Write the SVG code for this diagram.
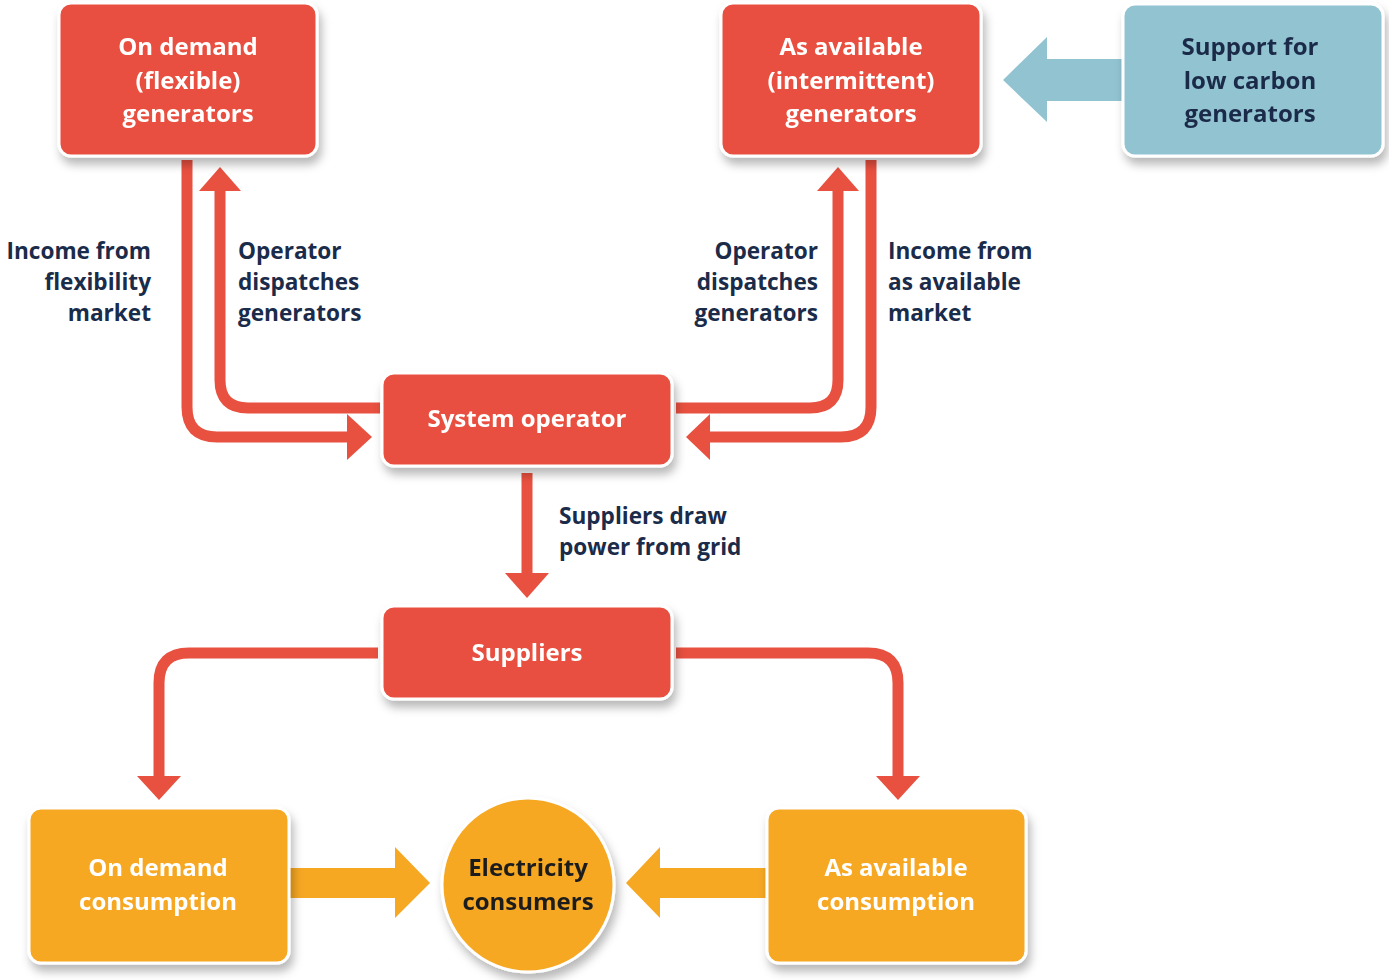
<svg xmlns="http://www.w3.org/2000/svg" width="1389" height="980" viewBox="0 0 1389 980">
<defs>
<filter id="sh" x="-20%" y="-20%" width="140%" height="150%">
<feDropShadow dx="3" dy="7" stdDeviation="5" flood-color="#000" flood-opacity="0.28"/>
</filter>
</defs>
<style>
.red{fill:#e8503f;stroke:#fff;stroke-width:3}
.blue{fill:#92c3d1;stroke:#fff;stroke-width:3}
.orange{fill:#f6a823;stroke:#fff;stroke-width:3}
.bt{font-family:"Open Sans","Liberation Sans",sans-serif;font-weight:700;font-size:24px;fill:#fff;text-anchor:middle}
.dt{fill:#1b2b4a}
.ct{fill:#1f1f1f}
.lbl{font-family:"Open Sans","Liberation Sans",sans-serif;font-weight:700;font-size:22.6px;fill:#1b2b4a}
.ln{fill:none;stroke:#e8503f;stroke-width:11}
.ah{fill:#e8503f}
</style>
<rect width="1389" height="980" fill="#fff"/>
<g id="connectors">
<path class="ln" d="M187,160 V407 Q187,437 217,437 H352"/>
<polygon class="ah" points="347,414 372,437 347,460"/>
<path class="ln" d="M380,408 H248 Q220,408 220,380 V188"/>
<polygon class="ah" points="199,191 220,167 241,191"/>
<path class="ln" d="M676,408 H810 Q838,408 838,380 V188"/>
<polygon class="ah" points="817,191 838,167 859,191"/>
<path class="ln" d="M871,160 V407 Q871,437 841,437 H706"/>
<polygon class="ah" points="710,414 686,437 710,460"/>
<path class="ln" d="M527,473 V576"/>
<polygon class="ah" points="505,573 527,598 549,573"/>
<path class="ln" d="M378,653 H189 Q159,653 159,683 V779"/>
<polygon class="ah" points="137,776 159,800 181,776"/>
<path class="ln" d="M676,653 H868 Q898,653 898,683 V779"/>
<polygon class="ah" points="876,776 898,800 920,776"/>
<polygon fill="#92c3d1" points="1126,59 1047,59 1047,37 1003,80 1047,122 1047,101 1126,101"/>
<polygon fill="#f6a823" points="289,868 395,868 395,847 430,883 395,918 395,898 289,898"/>
<polygon fill="#f6a823" points="769,868 660,868 660,847 626,883 660,918 660,898 769,898"/>
</g>
<g id="lbl-income-flex" class="lbl" text-anchor="end">
<text x="151" y="259">Income from</text>
<text x="151" y="290">flexibility</text>
<text x="151" y="321">market</text>
</g>
<g id="lbl-dispatch-left" class="lbl">
<text x="238" y="259">Operator</text>
<text x="238" y="290">dispatches</text>
<text x="238" y="321">generators</text>
</g>
<g id="lbl-dispatch-right" class="lbl" text-anchor="end">
<text x="818" y="259">Operator</text>
<text x="818" y="290">dispatches</text>
<text x="818" y="321">generators</text>
</g>
<g id="lbl-income-avail" class="lbl">
<text x="888" y="259">Income from</text>
<text x="888" y="290">as available</text>
<text x="888" y="321">market</text>
</g>
<g id="lbl-suppliers-draw" class="lbl">
<text x="559" y="524">Suppliers draw</text>
<text x="559" y="555">power from grid</text>
</g>
<g id="on-demand-gen" filter="url(#sh)">
<rect class="red" x="59" y="3" width="258" height="153" rx="12"/>
<text class="bt" x="188" y="55">On demand</text>
<text class="bt" x="188" y="89">(flexible)</text>
<text class="bt" x="188" y="122">generators</text>
</g>
<g id="as-available-gen" filter="url(#sh)">
<rect class="red" x="721" y="3" width="260" height="153" rx="12"/>
<text class="bt" x="851" y="55">As available</text>
<text class="bt" x="851" y="89">(intermittent)</text>
<text class="bt" x="851" y="122">generators</text>
</g>
<g id="support-low-carbon" filter="url(#sh)">
<rect class="blue" x="1123" y="4" width="260" height="152" rx="12"/>
<text class="bt dt" x="1250" y="55">Support for</text>
<text class="bt dt" x="1250" y="89">low carbon</text>
<text class="bt dt" x="1250" y="122">generators</text>
</g>
<g id="system-operator" filter="url(#sh)">
<rect class="red" x="382" y="373" width="290" height="93" rx="12"/>
<text class="bt" x="527" y="427">System operator</text>
</g>
<g id="suppliers" filter="url(#sh)">
<rect class="red" x="382" y="606" width="290" height="93" rx="12"/>
<text class="bt" x="527" y="661">Suppliers</text>
</g>
<g id="on-demand-consumption" filter="url(#sh)">
<rect class="orange" x="29" y="808" width="260" height="155" rx="12"/>
<text class="bt" x="158" y="876">On demand</text>
<text class="bt" x="158" y="910">consumption</text>
</g>
<g id="electricity-consumers" filter="url(#sh)">
<ellipse class="orange" cx="528" cy="885" rx="86" ry="87"/>
<text class="bt ct" x="528" y="876">Electricity</text>
<text class="bt ct" x="528" y="910">consumers</text>
</g>
<g id="as-available-consumption" filter="url(#sh)">
<rect class="orange" x="767" y="808" width="259" height="155" rx="12"/>
<text class="bt" x="896" y="876">As available</text>
<text class="bt" x="896" y="910">consumption</text>
</g>
</svg>
